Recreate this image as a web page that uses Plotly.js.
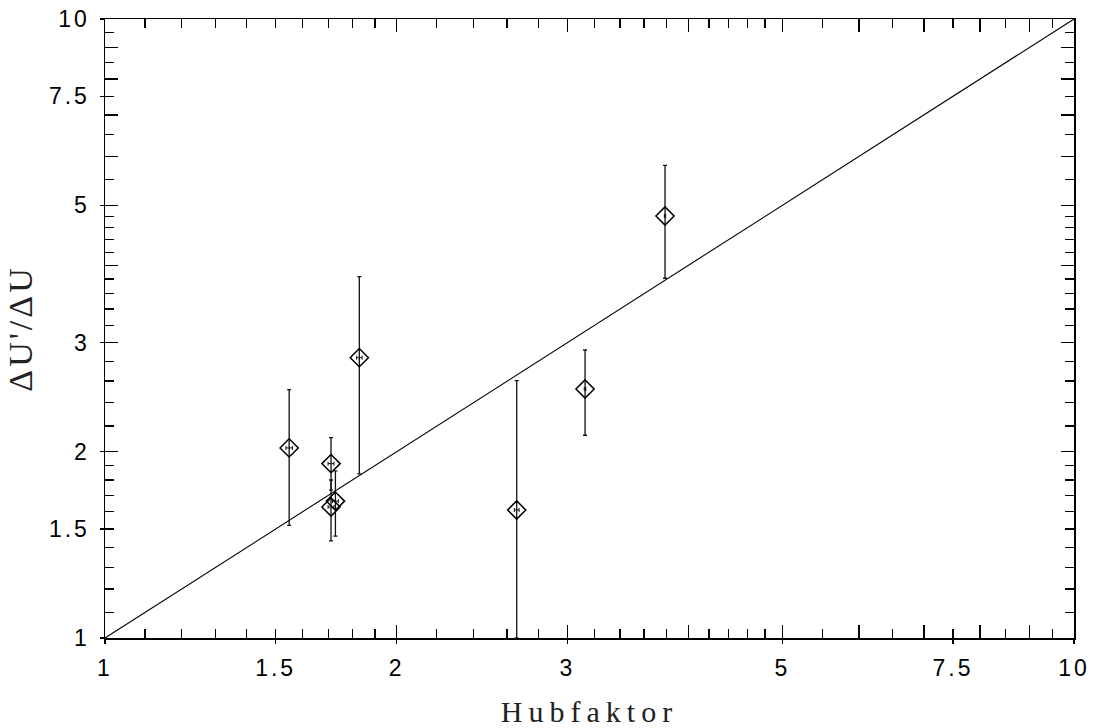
<!DOCTYPE html>
<html>
<head>
<meta charset="utf-8">
<script src="https://cdn.plot.ly/plotly-3.0.1.min.js"></script>
<style>
  html, body { margin: 0; padding: 0; background: #fff; }
  #chart { width: 1094px; height: 728px; }
  .xtick text, .ytick text { letter-spacing: 3px; }
  .xtitle { letter-spacing: 6px; }
  .ytitle { letter-spacing: 3px; }
</style>
</head>
<body>
<div id="chart"></div>
<script>
// ---- data ----
const hubfaktor = [1.549, 1.711, 1.729, 1.711, 1.830, 2.660, 3.129, 3.784];
const ratio     = [2.028, 1.913, 1.664, 1.628, 2.837, 1.610, 2.525, 4.806];
const ratioHigh = [2.520, 2.107, 1.862, 1.800, 3.834, 2.604, 2.919, 5.801];
const ratioLow  = [1.520, 1.734, 1.461, 1.435, 1.841, 1.000, 2.126, 3.812];
const hubErr    = [0.012, 0.012, 0.012, 0.012, 0.012, 0.015, 0.006, 0.006];

const identityX = [1, 10];
const identityY = [1, 10];

const labelVals = [1, 1.5, 2, 3, 5, 7.5, 10];
const labelText = ['1', '1.5', '2', '3', '5', '7.5', '10'];
const longTicks = [2, 3, 4, 5, 6, 7, 8, 9];
const shortTicks = [1.1, 1.2, 1.3, 1.4, 1.5, 1.6, 1.7, 1.8, 1.9,
                    2.2, 2.4, 2.6, 2.8, 3.2, 3.4, 3.6, 3.8,
                    4.2, 4.4, 4.6, 4.8, 5.5, 6.5, 7.5, 8.5, 9.5];

const errPlus = ratioHigh.map((h, i) => h - ratio[i]);
const errMinus = ratio.map((r, i) => r - ratioLow[i]);

const points = {
  type: 'scatter', mode: 'markers',
  x: hubfaktor, y: ratio,
  xaxis: 'x', yaxis: 'y',
  marker: { symbol: 'diamond-open', size: 14, color: '#000', line: { width: 1.5, color: '#000' } },
  error_y: { type: 'data', symmetric: false, array: errPlus, arrayminus: errMinus,
             color: '#111', thickness: 1.3, width: 2 },
  error_x: { type: 'data', array: hubErr, color: '#111', thickness: 1, width: 2 },
  showlegend: false, hoverinfo: 'x+y'
};

const diagonal = {
  type: 'scatter', mode: 'lines',
  x: identityX, y: identityY,
  xaxis: 'x2', yaxis: 'y2',
  line: { color: '#000', width: 1.1 },
  showlegend: false, hoverinfo: 'skip'
};

const tickFont = { family: 'Liberation Sans, Arial, sans-serif', size: 23, color: '#000' };
const titleFont = { family: 'Liberation Serif, Times New Roman, serif', size: 30, color: '#222' };

const baseAxis = {
  type: 'log', range: [0, 1], showgrid: false, zeroline: false,
  showline: true, linecolor: '#000', linewidth: 1.5, fixedrange: true
};

const layout = {
  width: 1094, height: 728,
  margin: { l: 105, r: 20, t: 19, b: 90 },
  paper_bgcolor: '#fff', plot_bgcolor: '#fff',
  showlegend: false,
  xaxis: Object.assign({}, baseAxis, {
    tickmode: 'array', tickvals: labelVals, ticktext: labelText,
    ticks: 'outside', ticklen: 4, tickcolor: '#000', tickwidth: 1.5,
    tickfont: tickFont, ticklabelstandoff: 5,
    title: { text: 'Hubfaktor', font: titleFont, standoff: 22 },
    automargin: false
  }),
  yaxis: Object.assign({}, baseAxis, {
    tickmode: 'array', tickvals: labelVals, ticktext: labelText,
    ticks: 'outside', ticklen: 4, tickcolor: '#000', tickwidth: 1.5,
    tickfont: tickFont, ticklabelstandoff: 5,
    title: { text: "ΔU'/ΔU", font: { family: 'Liberation Serif, Times New Roman, serif', size: 34, color: '#222' }, standoff: 6 },
    automargin: false
  }),
  xaxis2: Object.assign({}, baseAxis, {
    overlaying: 'x', anchor: 'y2', side: 'bottom',
    tickmode: 'array', tickvals: longTicks,
    ticks: 'inside', ticklen: 13, tickcolor: '#000', tickwidth: 1.5,
    showticklabels: false, mirror: 'ticks',
    minor: { tickmode: 'array', tickvals: shortTicks, ticks: 'inside', ticklen: 9,
             tickcolor: '#000', tickwidth: 1.3, showgrid: false }
  }),
  yaxis2: Object.assign({}, baseAxis, {
    overlaying: 'y', anchor: 'x2', side: 'left',
    tickmode: 'array', tickvals: longTicks,
    ticks: 'inside', ticklen: 13, tickcolor: '#000', tickwidth: 1.5,
    showticklabels: false, mirror: 'ticks',
    minor: { tickmode: 'array', tickvals: shortTicks, ticks: 'inside', ticklen: 9,
             tickcolor: '#000', tickwidth: 1.3, showgrid: false }
  })
};

Plotly.newPlot('chart', [diagonal, points], layout, { staticPlot: true, displayModeBar: false });
</script>
</body>
</html>
